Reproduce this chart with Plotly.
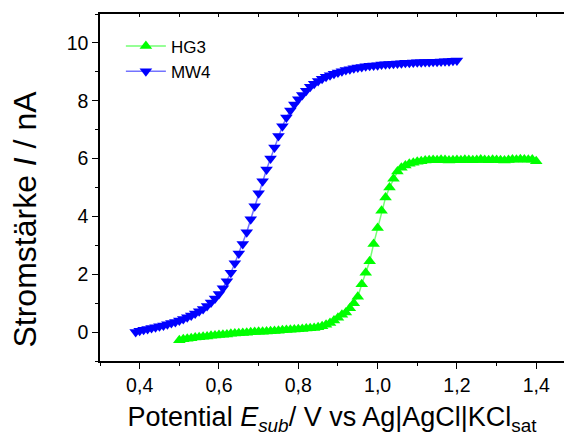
import plotly.graph_objects as go

# ---- data ----
mw4_x = [0.39, 0.40, 0.41, 0.42, 0.43, 0.44, 0.45, 0.46, 0.47, 0.48, 0.49,
         0.50, 0.51, 0.52, 0.53, 0.54, 0.55, 0.56, 0.57, 0.58, 0.59,
         0.60, 0.61, 0.62, 0.63, 0.64, 0.65, 0.66, 0.67, 0.68, 0.69,
         0.70, 0.71, 0.72, 0.73, 0.74, 0.75, 0.76, 0.77, 0.78, 0.79,
         0.80, 0.81, 0.82, 0.83, 0.84, 0.85, 0.86, 0.87, 0.88, 0.89,
         0.90, 0.91, 0.92, 0.93, 0.94, 0.95, 0.96, 0.97, 0.98, 0.99,
         1.00, 1.01, 1.02, 1.03, 1.04, 1.05, 1.06, 1.07, 1.08, 1.09,
         1.10, 1.11, 1.12, 1.13, 1.14, 1.15, 1.16, 1.17, 1.18, 1.19, 1.20]
mw4_y = [0.00, 0.05, 0.08, 0.11, 0.14, 0.17, 0.20, 0.23, 0.27, 0.31, 0.35,
         0.40, 0.45, 0.51, 0.57, 0.64, 0.72, 0.80, 0.90, 1.02, 1.16,
         1.32, 1.52, 1.76, 2.05, 2.38, 2.72, 3.05, 3.45, 3.90, 4.35,
         4.80, 5.22, 5.62, 6.00, 6.38, 6.78, 7.12, 7.42, 7.66, 7.87,
         8.05, 8.20, 8.35, 8.48, 8.59, 8.68, 8.76, 8.83, 8.88, 8.93,
         8.98, 9.02, 9.06, 9.09, 9.12, 9.15, 9.17, 9.19, 9.21, 9.22,
         9.23, 9.25, 9.26, 9.27, 9.28, 9.29, 9.30, 9.31, 9.31, 9.32,
         9.33, 9.33, 9.34, 9.34, 9.35, 9.35, 9.36, 9.37, 9.37, 9.38, 9.39, 9.41]

hg3_x = [0.50, 0.51, 0.52, 0.53, 0.54, 0.55, 0.56, 0.57, 0.58, 0.59,
         0.60, 0.61, 0.62, 0.63, 0.64, 0.65, 0.66, 0.67, 0.68, 0.69,
         0.70, 0.71, 0.72, 0.73, 0.74, 0.75, 0.76, 0.77, 0.78, 0.79,
         0.80, 0.81, 0.82, 0.83, 0.84, 0.85, 0.86, 0.87, 0.88, 0.89,
         0.90, 0.91, 0.92, 0.93, 0.94, 0.95, 0.96, 0.97, 0.98, 0.99,
         1.00, 1.01, 1.02, 1.03, 1.04, 1.05, 1.06, 1.07, 1.08, 1.09,
         1.10, 1.11, 1.12, 1.13, 1.14, 1.15, 1.16, 1.17, 1.18, 1.19,
         1.20, 1.21, 1.22, 1.23, 1.24, 1.25, 1.26, 1.27, 1.28, 1.29,
         1.30, 1.31, 1.32, 1.33, 1.34, 1.35, 1.36, 1.37, 1.38, 1.39, 1.40]
hg3_y = [-0.28, -0.25, -0.23, -0.21, -0.19, -0.18, -0.16, -0.15, -0.13, -0.12,
         -0.10, -0.09, -0.08, -0.06, -0.05, -0.04, -0.03, -0.02, -0.01, 0.00,
         0.01, 0.01, 0.02, 0.03, 0.04, 0.05, 0.06, 0.07, 0.08, 0.09,
         0.10, 0.11, 0.12, 0.13, 0.14, 0.17, 0.20, 0.25, 0.31, 0.40,
         0.50, 0.60, 0.68, 0.82, 1.00, 1.22, 1.65, 2.05, 2.45, 3.05,
         3.60, 4.20, 4.65, 5.00, 5.30, 5.55, 5.68, 5.76, 5.82, 5.86,
         5.89, 5.91, 5.93, 5.94, 5.95, 5.94, 5.96, 5.95, 5.93, 5.94,
         5.95, 5.94, 5.96, 5.95, 5.94, 5.95, 5.97, 5.95, 5.94, 5.96,
         5.95, 5.94, 5.93, 5.95, 5.97, 5.96, 5.98, 5.97, 5.96, 5.97, 5.91]

x_ticks = [0.4, 0.6, 0.8, 1.0, 1.2, 1.4]
x_tick_labels = ["0,4", "0,6", "0,8", "1,0", "1,2", "1,4"]
y_ticks = [0, 2, 4, 6, 8, 10]

FONT = "Arial, Liberation Sans, sans-serif"

fig = go.Figure()
fig.add_trace(go.Scatter(
    x=hg3_x, y=hg3_y, mode="lines+markers", name="HG3",
    line=dict(color="rgba(0,255,0,0.55)", width=1.5),
    marker=dict(symbol="triangle-up", size=11, color="#00ff00", line=dict(width=0)),
))
fig.add_trace(go.Scatter(
    x=mw4_x, y=mw4_y, mode="lines+markers", name="MW4",
    line=dict(color="rgba(0,0,255,0.55)", width=1.5),
    marker=dict(symbol="triangle-down", size=11, color="#0000ff", line=dict(width=0)),
))
# invisible trace to carry the top axis
fig.add_trace(go.Scatter(x=[0.5], y=[0], xaxis="x2", mode="markers",
                         marker=dict(opacity=0), showlegend=False, hoverinfo="skip"))

fig.update_layout(
    width=564, height=441,
    margin=dict(l=100, r=0, t=14, b=80),
    paper_bgcolor="white", plot_bgcolor="white",
    font=dict(family=FONT, color="black"),
    showlegend=True,
    legend=dict(x=0.045, y=0.958, xanchor="left", yanchor="top",
                font=dict(size=17, family=FONT), bgcolor="rgba(0,0,0,0)",
                tracegroupgap=0, itemwidth=40),
    xaxis=dict(
        range=[0.3, 1.47], showgrid=False, zeroline=False,
        showline=True, linecolor="black", linewidth=1.5,
        ticks="outside", ticklen=6, tickwidth=1.2, tickcolor="black",
        tickvals=x_ticks, ticktext=x_tick_labels,
        tickfont=dict(size=19.5, family=FONT),
        minor=dict(dtick=0.1, tick0=0.3, ticks="outside", ticklen=3, tickwidth=1, tickcolor="black"),
        title=dict(text="Potential <i>E</i><sub><i>sub</i></sub>/ V vs Ag|AgCl|KCl<sub>sat</sub>",
                   font=dict(size=27, family=FONT), standoff=12),
    ),
    xaxis2=dict(
        overlaying="x", side="top", range=[0.3, 1.47], showgrid=False, zeroline=False,
        showline=True, linecolor="black", linewidth=1.5,
        ticks="inside", ticklen=3, tickwidth=1, tickcolor="black",
        dtick=0.1, tick0=0.3, showticklabels=False,
    ),
    yaxis=dict(
        range=[-1, 11], showgrid=False, zeroline=False,
        showline=True, linecolor="black", linewidth=1.5,
        ticks="outside", ticklen=6, tickwidth=1.2, tickcolor="black",
        tickvals=y_ticks, tickfont=dict(size=19.5, family=FONT),
        minor=dict(dtick=1, tick0=-1, ticks="outside", ticklen=3, tickwidth=1, tickcolor="black"),
    ),
    annotations=[dict(
        text="Stromstärke <i>I</i> / nA", textangle=-90,
        xref="paper", yref="paper", x=-0.162, y=0.41,
        xanchor="center", yanchor="middle", showarrow=False,
        font=dict(size=32, family=FONT, color="black"),
    )],
)

fig.write_html("out.html")
